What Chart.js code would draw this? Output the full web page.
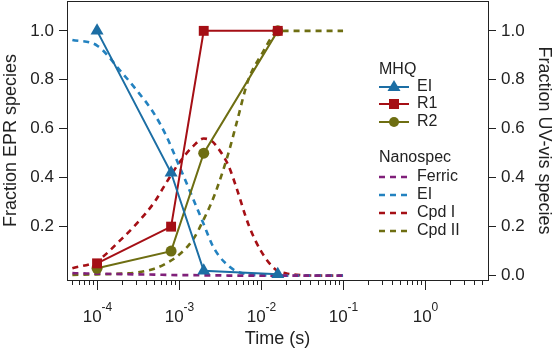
<!DOCTYPE html>
<html>
<head>
<meta charset="utf-8">
<script src="https://cdn.jsdelivr.net/npm/chart.js@4.4.1/dist/chart.umd.min.js"></script>
<style>
html, body { margin: 0; padding: 0; background: #fff; }
#wrap { width: 555px; height: 352px; position: relative; }
</style>
</head>
<body>
<div id="wrap"><canvas id="c"></canvas></div>
<script>
// MHQ (EPR) points, left axis
var mhqTimes = [1e-4, 8e-4, 2e-3, 1.6e-2];
var mhqEI = [1.0, 0.42, 0.02, 0.005];
var mhqR1 = [0.05, 0.2, 1.0, 1.0];
var mhqR2 = [0.03, 0.1, 0.5, 1.0];

// Nanospec (UV-vis) curves, right axis
var nanoTimes = [5e-5, 1e-4, 2e-4, 3e-4, 5e-4, 7e-4, 1e-3, 1.5e-3, 2e-3, 2.5e-3, 3e-3, 4e-3, 5e-3, 7e-3, 1e-2, 1.5e-2, 2e-2, 3e-2, 5e-2, 1e-1];
var nanoFerric = [0.01, 0.008, 0.006, 0.005, 0.004, 0.003, 0.002, 0.002, 0.001, 0.001, 0.001, 0, 0, 0, 0, 0, 0, 0, 0, 0];
var nanoEI = [0.963, 0.94, 0.83, 0.76, 0.66, 0.57, 0.45, 0.31, 0.21, 0.13, 0.085, 0.04, 0.018, 0.005, 0.001, 0, 0, 0, 0, 0];
var nanoCpdI = [0.03, 0.06, 0.15, 0.21, 0.30, 0.38, 0.46, 0.53, 0.56, 0.55, 0.52, 0.45, 0.36, 0.21, 0.10, 0.025, 0.01, 0.002, 0, 0];
var nanoCpdII = [0.003, 0.005, 0.008, 0.012, 0.028, 0.05, 0.085, 0.15, 0.23, 0.30, 0.37, 0.50, 0.62, 0.80, 0.90, 0.99, 1.0, 1.0, 1.0, 1.0];

var leftTicks = [0.2, 0.4, 0.6, 0.8, 1.0];
var rightTicks = [0.0, 0.2, 0.4, 0.6, 0.8, 1.0];

var BLUE = '#1c6ea4', BLUE_D = '#2382c0', RED = '#a50f15', OLIVE = '#6e6e12', PURPLE = '#80207a';
var AXIS = '#222';
var FONT = 'Liberation Sans, Arial, sans-serif';

function pts(xs, ys) {
  return xs.map(function (x, i) { return { x: x, y: ys[i] }; });
}

function solid(label, ys, color, shape, r) {
  return {
    label: label, data: pts(mhqTimes, ys), yAxisID: 'y',
    borderColor: color, backgroundColor: color, borderWidth: 2,
    pointStyle: shape, pointRadius: r, pointBorderWidth: 0,
    tension: 0, order: 0
  };
}

function dashed(label, ys, color) {
  return {
    label: label, data: pts(nanoTimes, ys), yAxisID: 'y2',
    borderColor: color, borderWidth: 2.6, borderDash: [6, 5],
    pointRadius: 0, cubicInterpolationMode: 'monotone', order: 1
  };
}

var datasets = [
  solid('EI', mhqEI, BLUE, 'triangle', 7.5),
  solid('R1', mhqR1, RED, 'rect', 7),
  solid('R2', mhqR2, OLIVE, 'circle', 5.5),
  dashed('Ferric', nanoFerric, PURPLE),
  dashed('EI', nanoEI, BLUE_D),
  dashed('Cpd I', nanoCpdI, RED),
  dashed('Cpd II', nanoCpdII, OLIVE)
];

function yScale(pos, ticks, title) {
  return {
    type: 'linear', position: pos, min: -0.018, max: 1.122,
    afterBuildTicks: function (s) { s.ticks = ticks.map(function (v) { return { value: v }; }); },
    afterFit: function (s) { s.width = 67; s.paddingTop = 0; s.paddingBottom = 0; },
    grid: { drawOnChartArea: false, drawTicks: true, tickLength: 8, tickColor: AXIS },
    border: { color: AXIS, width: 1 },
    ticks: { color: AXIS, padding: 5, font: { family: FONT, size: 17 },
      callback: function (v) { return v.toFixed(1); } },
    title: { display: true, text: title, color: AXIS, padding: 0, font: { family: FONT, size: 18 } }
  };
}

// top frame, log x ticks with superscripts, and the grouped legend
var decor = {
  id: 'decor',
  afterDraw: function (chart) {
    var ctx = chart.ctx, a = chart.chartArea, xs = chart.scales.x;
    ctx.save();
    ctx.strokeStyle = AXIS; ctx.lineWidth = 1;
    ctx.beginPath();
    ctx.moveTo(a.left, a.top + 0.5); ctx.lineTo(a.right, a.top + 0.5);
    ctx.stroke();

    for (var e = -5; e <= 0; e++) {
      for (var k = 1; k <= 9; k++) {
        var v = k * Math.pow(10, e);
        if (v < xs.min || v > xs.max) continue;
        var px = Math.round(xs.getPixelForValue(v)) + 0.5;
        ctx.beginPath();
        ctx.moveTo(px, a.bottom);
        ctx.lineTo(px, a.bottom + (k === 1 ? 10 : 5));
        ctx.stroke();
        if (k === 1) {
          ctx.fillStyle = AXIS;
          ctx.textBaseline = 'alphabetic'; ctx.textAlign = 'left';
          ctx.font = '17px ' + FONT;
          var w1 = ctx.measureText('10').width;
          ctx.font = '12px ' + FONT;
          var sup = String(e), w2 = ctx.measureText(sup).width;
          var x0 = px - (w1 + w2) / 2;
          ctx.font = '17px ' + FONT;
          ctx.fillText('10', x0, 322);
          ctx.font = '12px ' + FONT;
          ctx.fillText(sup, x0 + w1, 311);
        }
      }
    }

    // legend
    ctx.font = '16px ' + FONT;
    ctx.fillStyle = AXIS;
    ctx.textBaseline = 'middle'; ctx.textAlign = 'left';
    var lx0 = 379, lx1 = 409, tx = 417;
    ctx.fillText('MHQ', lx0, 70);
    var mhqRows = [[87, 'EI', BLUE, 'tri'], [104, 'R1', RED, 'sq'], [122, 'R2', OLIVE, 'dot']];
    mhqRows.forEach(function (r) {
      var y = r[0], c = r[2], mx = (lx0 + lx1) / 2;
      ctx.strokeStyle = c; ctx.lineWidth = 2; ctx.setLineDash([]);
      ctx.beginPath(); ctx.moveTo(lx0, y); ctx.lineTo(lx1, y); ctx.stroke();
      ctx.fillStyle = c;
      ctx.beginPath();
      if (r[3] === 'tri') { ctx.moveTo(mx, y - 7); ctx.lineTo(mx + 6.5, y + 4); ctx.lineTo(mx - 6.5, y + 4); ctx.closePath(); }
      else if (r[3] === 'sq') { ctx.rect(mx - 5, y - 5, 10, 10); }
      else { ctx.arc(mx, y, 5, 0, Math.PI * 2); }
      ctx.fill();
      ctx.fillStyle = AXIS;
      ctx.fillText(r[1], tx, y);
    });
    ctx.fillText('Nanospec', lx0, 158);
    var nanoRows = [[177, 'Ferric', PURPLE], [195, 'EI', BLUE_D], [213, 'Cpd I', RED], [231, 'Cpd II', OLIVE]];
    nanoRows.forEach(function (r) {
      ctx.strokeStyle = r[2]; ctx.lineWidth = 2.6; ctx.setLineDash([6, 5]);
      ctx.beginPath(); ctx.moveTo(lx0, r[0]); ctx.lineTo(lx1, r[0]); ctx.stroke();
      ctx.setLineDash([]);
      ctx.fillStyle = AXIS;
      ctx.fillText(r[1], tx, r[0]);
    });
    ctx.restore();
  }
};

new Chart(document.getElementById('c'), {
  type: 'line',
  data: { datasets: datasets },
  plugins: [decor],
  options: {
    responsive: true, maintainAspectRatio: false, animation: false,
    layout: { autoPadding: false, padding: { top: 1, left: 0, right: 0, bottom: 0 } },
    plugins: { legend: { display: false }, tooltip: { enabled: false } },
    scales: {
      x: {
        type: 'logarithmic', position: 'bottom', min: 4.3e-5, max: 5.86,
        afterFit: function (s) { s.height = 72; s.paddingLeft = 0; s.paddingRight = 0; },
        grid: { display: false },
        border: { color: AXIS, width: 1 },
        ticks: { display: false },
        title: { display: true, text: 'Time (s)', color: AXIS, padding: { top: 0, bottom: 2 }, font: { family: FONT, size: 18 } }
      },
      y: yScale('left', leftTicks, 'Fraction EPR species'),
      y2: yScale('right', rightTicks, 'Fraction UV-vis species')
    }
  }
});
</script>
</body>
</html>
